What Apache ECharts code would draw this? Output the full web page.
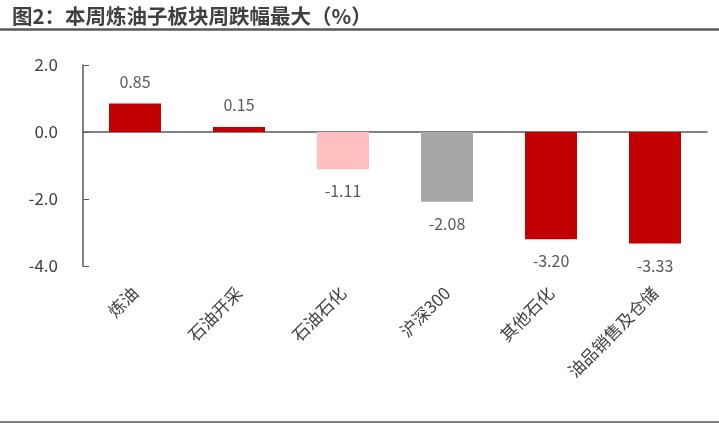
<!DOCTYPE html>
<html><head><meta charset="utf-8">
<script src="https://cdn.jsdelivr.net/npm/echarts@6/dist/echarts.min.js"></script>
<style>html,body{margin:0;padding:0;background:#fff}#c{width:719px;height:429px}</style>
</head><body><div id="c"></div>
<script>
const categories = ['炼油','石油开采','石油石化','沪深300','其他石化','油品销售及仓储'];
const values = [0.85, 0.15, -1.11, -2.08, -3.20, -3.33];
const colors = ['#C00000','#C00000','#FFBFBF','#A6A6A6','#C00000','#C00000'];
const yTicks = [2.0, 0.0, -2.0, -4.0];
const titleText = '图2：本周炼油子板块周跌幅最大（%）';

const font = '"Noto Sans CJK SC", "Noto Sans", sans-serif';
const chart = echarts.init(document.getElementById('c'));
chart.setOption({
  animation: false,
  textStyle: {fontFamily: font},
  title: {text: titleText, left: 7, top: 1, textStyle: {fontSize: 20.5, fontWeight: 'bold', color: '#404040', fontFamily: font}},
  graphic: [
    {type: 'line', shape: {x1: 0, y1: 29.5, x2: 719, y2: 29.5}, style: {stroke: '#595959', lineWidth: 2.5}},
    {type: 'line', shape: {x1: 0, y1: 422, x2: 719, y2: 422}, style: {stroke: '#808080', lineWidth: 2}}
  ],
  grid: {left: 83, right: 12, top: 65, bottom: 163},
  xAxis: [
    {type: 'category', data: categories, axisLine: {onZero: true, lineStyle: {color: '#595959', width: 1.5}},
     axisTick: {show: false}, axisLabel: {show: false}},
    {type: 'category', data: categories, position: 'bottom', axisLine: {show: false, onZero: false}, axisTick: {show: false},
     axisLabel: {rotate: 45, margin: 24, fontSize: 17, color: '#404040', fontFamily: font, interval: 0}}
  ],
  yAxis: {type: 'value', min: -4, max: 2, interval: 2,
    axisLine: {show: true, lineStyle: {color: '#595959', width: 1.5}},
    axisTick: {show: true, inside: true, length: 6, lineStyle: {color: '#595959'}},
    splitLine: {show: false},
    axisLabel: {margin: 25, fontSize: 17, color: '#404040', fontFamily: font, formatter: v => v.toFixed(1)}},
  series: [{
    type: 'bar', xAxisIndex: 0, barWidth: '50%',
    data: values.map((v, i) => ({value: v, itemStyle: {color: colors[i]}, label: {position: v >= 0 ? 'top' : 'bottom'}})),
    label: {show: true, distance: 14, fontSize: 16, color: '#595959', fontFamily: font, formatter: p => p.value.toFixed(2)}
  }]
});
</script></body></html>
